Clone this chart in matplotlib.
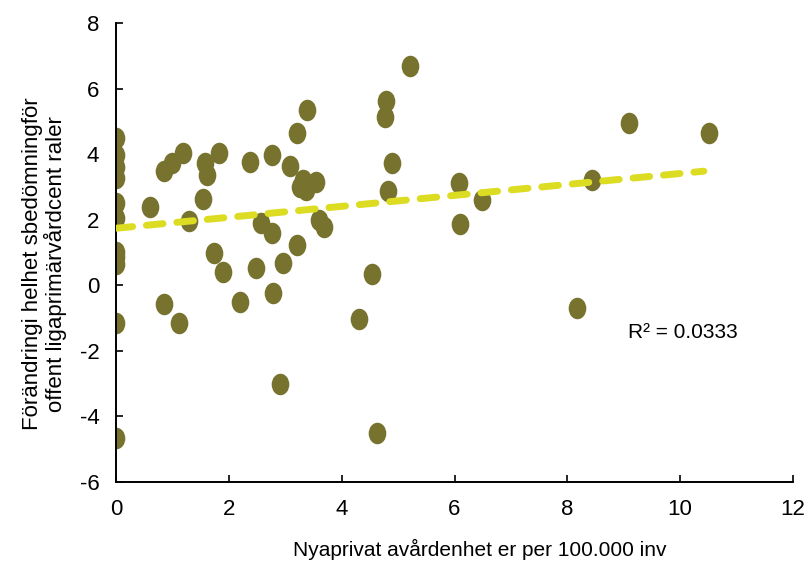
import matplotlib.pyplot as plt
import numpy as np
from matplotlib.path import Path

plt.rcParams['font.family'] = ['Liberation Sans', 'DejaVu Sans']
plt.rcParams['axes.unicode_minus'] = False

# nya privata vårdenheter per 100 000 inv
x = [0, 0, 0, 0, 0, 0, 0, 0, 0, 0, 0,
     0.61, 0.85, 0.99, 1.18, 1.57, 1.61, 1.55, 1.83, 1.30,
     2.37, 2.76, 3.08, 3.20, 3.38, 3.32, 3.36, 3.54, 3.26,
     3.59, 3.68, 2.57, 2.76, 3.20, 1.74, 1.89, 2.49, 2.96,
     2.78, 2.20, 0.85, 1.12,
     5.21, 4.78, 4.76, 4.90, 4.82, 6.08, 6.48, 6.09, 4.54,
     4.31, 2.91, 4.63, 9.10, 10.52, 8.43, 8.17]
# förändring i helhetsbedömning
y = [4.48, 3.97, 3.62, 3.26, 2.50, 2.04, 1.02, 0.85, 0.65, -1.16, -4.66,
     2.38, 3.49, 3.72, 4.02, 3.72, 3.36, 2.63, 4.04, 1.97,
     3.75, 3.96, 3.64, 4.63, 5.34, 3.21, 2.91, 3.16, 3.01,
     1.99, 1.79, 1.91, 1.58, 1.23, 0.99, 0.40, 0.54, 0.69,
     -0.24, -0.52, -0.58, -1.14,
     6.70, 5.62, 5.12, 3.72, 2.87, 3.11, 2.60, 1.86, 0.33,
     -1.02, -3.02, -4.51, 4.96, 4.63, 3.21, -0.68]

# linjär trend
trend_intercept = 1.74
trend_slope = 0.167
trend_xrange = [0, 10.42]

trend_x = np.array(trend_xrange)
trend_y = trend_intercept + trend_slope * trend_x

# elliptisk markör (högre än bred)
circ = Path.unit_circle()
ell = Path(circ.vertices * np.array([0.82, 1.0]), circ.codes)

fig = plt.figure(figsize=(8.08, 5.64), dpi=100)
ax = fig.add_axes([0.1436, 0.1454, 0.8378, 0.8138])

ax.plot(x, y, linestyle='none', marker=ell, markersize=15.5,
        color='#77732f', markeredgewidth=0, zorder=2)
ax.plot(trend_x, trend_y, color='#dcdc22', linewidth=5,
        dashes=(2.4, 2.0), dash_capstyle='round', zorder=3)

ax.set_xlim(0, 12)
ax.set_ylim(-6, 8)
ax.set_xticks(np.arange(0, 13, 2))
ax.set_yticks(np.arange(-6, 9, 2))
ax.tick_params(direction='in', length=5, width=1.2, labelsize=16, pad=12)
ax.tick_params(axis='x', pad=12)
for s in ['top', 'right']:
    ax.spines[s].set_visible(False)
for s in ['left', 'bottom']:
    ax.spines[s].set_linewidth(1.4)

ax.set_xlabel("Nyaprivat avårdenhet er per 100.000 inv", fontsize=15)
ax.xaxis.set_label_coords(0.538, -0.125)
ax.set_ylabel("Förändringi helhet sbedömningför\noffent ligaprimärvårdcent raler",
              fontsize=16, linespacing=1.0)
ax.yaxis.set_label_coords(-0.073, 0.475)
ax.text(9.08, -1.45, "R² = 0.0333", fontsize=15, va='center')

plt.savefig("out.png", dpi=100)
